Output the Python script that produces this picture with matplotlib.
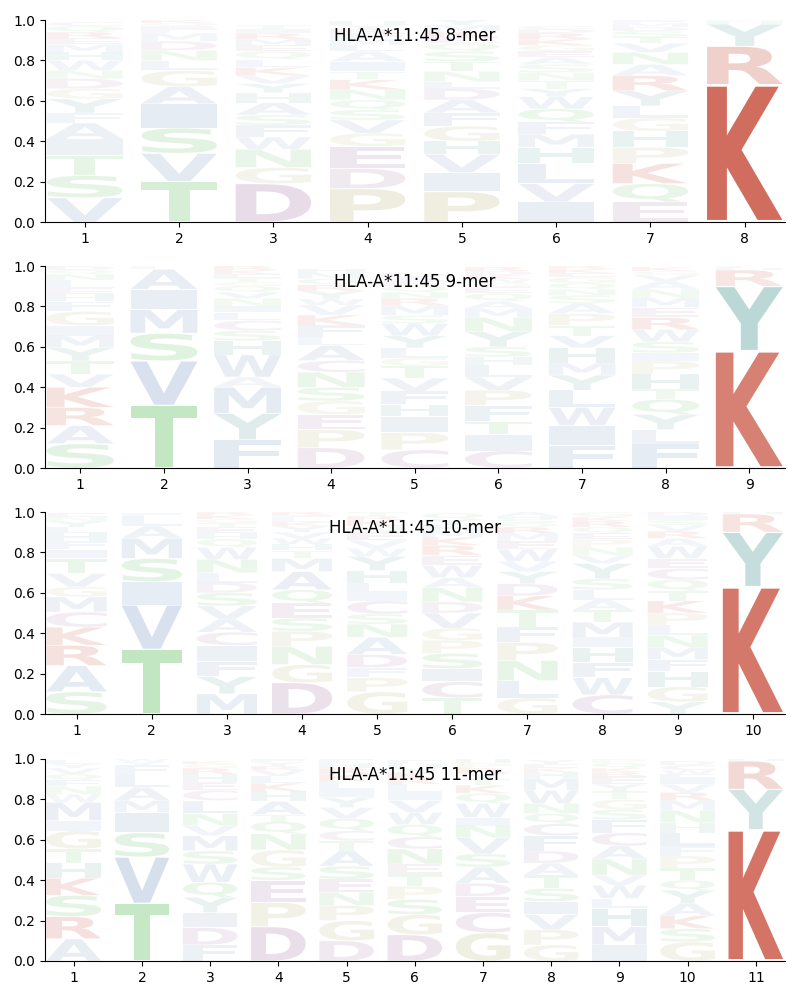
import matplotlib
matplotlib.use("Agg")
import matplotlib.pyplot as plt
from matplotlib.textpath import TextPath
from matplotlib.patches import PathPatch
from matplotlib.font_manager import FontProperties
from matplotlib.transforms import Affine2D

# each column: letters listed bottom -> top, with their heights (probabilities)
mer8_letters = ["VSTIAFYGDNWHMERQC", "TVSIAGLNDMFEQK", "DGNWFSAHYVKLQEMRIT",
                "PDEGVSQNKTIALMFRYH", "PIVHGFADLNTSQEKMY", "IVLHMFQWYTNSAEGKRDC",
                "EQKPHGLYRANVTSDMF", "KRYHN"]
mer8_heights = [[.12, .11, .10, .08, .08, .05, .07, .05, .05, .04, .05, .04, .04, .03, .03, .03, .02],
                [.2, .14, .125, .12, .085, .08, .05, .05, .045, .04, .02, .015, .015, .015],
                [.19, .08, .09, .06, .06, .05, .06, .05, .045, .04, .04, .04, .04, .03, .03, .03, .02, .02],
                [.165, .1, .11, .065, .065, .05, .05, .05, .05, .04, .05, .05, .03, .03, .03, .02, .02, .02],
                [.15, .095, .09, .065, .075, .065, .065, .055, .035, .05, .05, .05, .04, .03, .03, .03, .03],
                [.1, .09, .1, .08, .065, .06, .065, .06, .04, .04, .04, .04, .035, .03, .03, .03, .03, .02, .015],
                [.1, .09, .1, .08, .08, .065, .06, .075, .075, .055, .06, .045, .03, .03, .02, .02, .015],
                [.68, .19, .11, .01, .01]]

mer9_letters = ["SARKVTYMIGFHELNQD", "TVSMIAL", "FYMAWHSCLINVQGTEKR",
                "DPEGSNCALFKVWYRQMH", "CPIHFVTGLYWSMRNQEAD", "CITFPVLHSYNMAQEGWKDR",
                "FIWLYMHVTPASNQGEKR", "FLYQTHPISWREMNAVGK", "KYRHF"]
mer9_heights = [[.12, .09, .09, .1, .065, .065, .065, .06, .05, .07, .05, .035, .03, .04, .03, .02, .02],
                [.31, .22, .137, .117, .1, .1, .016],
                [.14, .13, .13, .05, .11, .07, .05, .05, .04, .03, .04, .03, .03, .02, .02, .02, .02, .02],
                [.1, .09, .075, .067, .067, .075, .058, .075, .04, .06, .05, .05, .03, .04, .03, .03, .03, .02],
                [.09, .085, .08, .06, .065, .065, .06, .04, .05, .06, .06, .04, .05, .035, .03, .03, .025, .02, .02],
                [.085, .08, .065, .08, .075, .065, .06, .04, .05, .075, .07, .045, .035, .04, .03, .02, .02, .02, .02, .02],
                [.11, .1, .09, .085, .075, .06, .075, .06, .05, .06, .05, .04, .03, .03, .03, .02, .02, .015],
                [.12, .07, .075, .075, .05, .075, .065, .04, .055, .06, .06, .05, .05, .04, .04, .03, .02, .02],
                [.58, .32, .08, .01, .01]]

mer10_letters = ["SARKCMGVTIFHLYNE", "TVISMALF", "MYFICAVSDLNWQHETGKR",
                 "DGNPSEQAMTHWVYKLFR", "GPFDANSCILHYWVEQKRT", "TCISPGVDNAWERKMHYQ",
                 "GLNPFTKDYVWEMRQSHA", "CWFHIMTALSYVNPEQRKG", "YGHFMNLPKTQCEWARVSID", "KYRH"]
mer10_heights = [[.11, .13, .1, .09, .075, .075, .05, .065, .075, .045, .04, .04, .03, .03, .02, .02],
                 [.32, .22, .115, .115, .1, .06, .05, .015],
                 [.1, .085, .075, .08, .065, .065, .065, .065, .05, .05, .065, .06, .04, .03, .03, .02, .02, .02, .015],
                 [.155, .09, .09, .075, .065, .075, .065, .09, .065, .04, .03, .03, .03, .03, .02, .02, .015, .015],
                 [.11, .07, .05, .065, .085, .065, .05, .065, .04, .05, .06, .07, .04, .04, .04, .03, .03, .02, .02],
                 [.08, .08, .065, .075, .065, .06, .075, .055, .07, .05, .06, .05, .05, .04, .03, .03, .03, .03],
                 [.08, .085, .1, .09, .075, .085, .07, .06, .06, .05, .06, .04, .04, .03, .02, .02, .015, .02],
                 [.095, .085, .075, .075, .05, .075, .06, .05, .05, .055, .075, .04, .04, .04, .03, .03, .03, .02, .025],
                 [.06, .075, .075, .06, .06, .06, .05, .06, .06, .05, .055, .055, .05, .06, .04, .035, .03, .025, .02, .02],
                 [.63, .27, .09, .01]]

mer11_letters = ["ARSKHTGIMWNFQVYL", "TVSIMALFYW", "FDIYQWSMVNLCEHRGK",
                 "DPESGNQTAHKLVRYF", "DGPNESATCQVYILKRHF", "DGSPTENCQWVILRKYHF",
                 "GCEDASVNIWQKTYRPH", "GPVISTADFCQNWMHKEY", "IMHLWVNACFSGTYERKQP",
                 "GSKAYQTPFLHNMRVIEWCD", "KYRH"]
mer11_heights = [[.11, .11, .105, .085, .075, .07, .09, .05, .09, .04, .04, .03, .03, .03, .02, .02],
                 [.285, .23, .12, .1, .06, .065, .06, .05, .015, .015],
                 [.08, .085, .075, .075, .075, .09, .065, .075, .05, .06, .065, .05, .04, .04, .03, .02, .015],
                 [.17, .12, .11, .065, .085, .08, .06, .035, .065, .05, .04, .035, .03, .02, .02, .015],
                 [.1, .1, .075, .065, .065, .065, .075, .05, .05, .06, .055, .05, .04, .04, .035, .03, .025, .02],
                 [.13, .1, .075, .065, .06, .05, .075, .06, .06, .06, .06, .04, .04, .03, .03, .02, .02, .02],
                 [.14, .1, .08, .065, .08, .065, .08, .06, .04, .07, .05, .04, .03, .03, .025, .025, .02],
                 [.08, .075, .075, .065, .065, .065, .06, .06, .075, .06, .05, .05, .065, .06, .03, .02, .02, .02],
                 [.08, .09, .09, .05, .065, .05, .08, .065, .065, .065, .05, .05, .04, .035, .04, .02, .02, .025, .02],
                 [.095, .065, .065, .06, .065, .05, .06, .06, .05, .065, .05, .06, .05, .04, .04, .03, .02, .02, .025, .02],
                 [.65, .2, .14, .01]]

titles = ["HLA-A*11:45 8-mer", "HLA-A*11:45 9-mer", "HLA-A*11:45 10-mer", "HLA-A*11:45 11-mer"]

# residue colour groups
groupColors = {
    "KR": "#c8503f",
    "YH": "#5fa39f",
    "STNQ": "#6cc46c",
    "AVLIMFW": "#7e9cc4",
    "DEC": "#a87ca8",
    "PG": "#b8b67a",
}
letterColor = {}
for group, col in groupColors.items():
    for ch in group:
        letterColor[ch] = col

fontProp = FontProperties(family="DejaVu Sans", weight="bold")
LETTER_WIDTH = 0.8
VPAD = 0.03


def drawLetter(ax, ch, x, y0, h):
    tp = TextPath((0, 0), ch, size=1, prop=fontProp)
    bb = tp.get_extents()
    gh = h * (1 - VPAD)
    t = (Affine2D().translate(-bb.x0, -bb.y0)
         .scale(LETTER_WIDTH / bb.width, gh / bb.height)
         .translate(x - LETTER_WIDTH / 2, y0 + h * VPAD / 2))
    alpha = min(0.9, 0.05 + 1.15 * h)  # fainter for rare residues
    ax.add_patch(PathPatch(t.transform_path(tp), facecolor=letterColor[ch],
                           edgecolor="none", alpha=alpha))


def drawLogo(ax, letters, heights, title):
    n = len(letters)
    for i in range(n):
        y = 0.0
        for ch, h in zip(letters[i], heights[i]):
            drawLetter(ax, ch, i + 1, y, h)
            y += h
    ax.set_xlim(0.575, n + 0.425)
    ax.set_ylim(0, 1)
    ax.set_xticks(range(1, n + 1))
    ax.set_yticks([0, 0.2, 0.4, 0.6, 0.8, 1.0])
    ax.spines["top"].set_visible(False)
    ax.spines["right"].set_visible(False)
    ax.text(0.5, 0.92, title, transform=ax.transAxes, ha="center", va="center", fontsize=12)


fig = plt.figure(figsize=(8, 10), dpi=100)
allLetters = [mer8_letters, mer9_letters, mer10_letters, mer11_letters]
allHeights = [mer8_heights, mer9_heights, mer10_heights, mer11_heights]
bottoms = [0.778, 0.532, 0.286, 0.039]
for k in range(4):
    ax = fig.add_axes([0.056, bottoms[k], 0.925, 0.202])
    drawLogo(ax, allLetters[k], allHeights[k], titles[k])

fig.savefig("out.png", dpi=100)
